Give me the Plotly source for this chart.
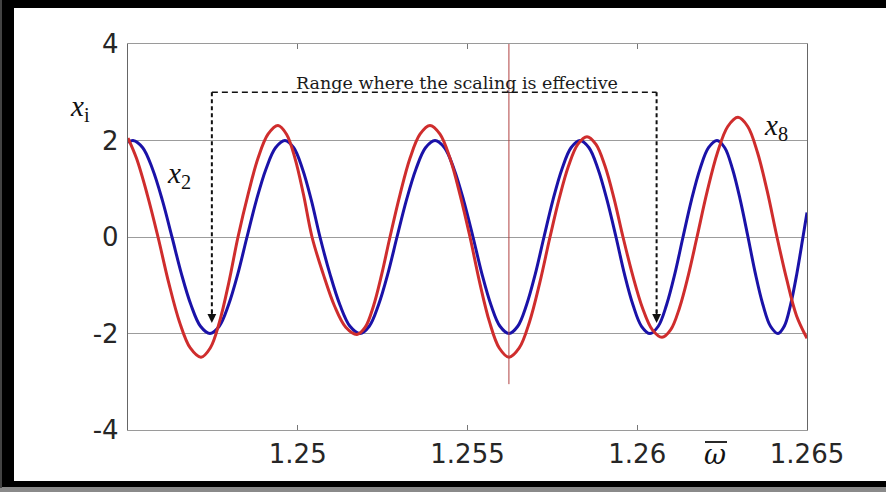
import plotly.graph_objects as go

# Normalised frequency values and the responses x2 (blue) and x8 (red) read along them
omega_x2 = [1.245000, 1.245147,
            1.245434, 1.245722, 1.246009, 1.246296,
            1.246576, 1.246856, 1.247135, 1.247415,
            1.247688, 1.247960, 1.248233, 1.248505,
            1.248785, 1.249065, 1.249345, 1.249624,
            1.249882, 1.250140, 1.250398, 1.250655,
            1.250950, 1.251244, 1.251539, 1.251834,
            1.252106, 1.252378, 1.252651, 1.252923,
            1.253203, 1.253483, 1.253763, 1.254043,
            1.254323, 1.254602, 1.254882, 1.255162,
            1.255427, 1.255692, 1.255957, 1.256222,
            1.256480, 1.256738, 1.256996, 1.257253,
            1.257518, 1.257783, 1.258049, 1.258314,
            1.258579, 1.258844, 1.259109, 1.259374,
            1.259624, 1.259875, 1.260125, 1.260376,
            1.260619, 1.260862, 1.261105, 1.261348,
            1.261598, 1.261848, 1.262099, 1.262349,
            1.262577, 1.262806, 1.263034, 1.263262,
            1.263483, 1.263704, 1.263925, 1.264146,
            1.264330, 1.264514, 1.264698, 1.264882,
            1.265000]
x2_vals = [1.96, 2.0,
           1.85, 1.41, 0.77, 0.0,
           -0.77, -1.41, -1.85, -2.0,
           -1.85, -1.41, -0.77, 0.0,
           0.77, 1.41, 1.85, 2.0,
           1.85, 1.41, 0.77, 0.0,
           -0.77, -1.41, -1.85, -2.0,
           -1.85, -1.41, -0.77, 0.0,
           0.77, 1.41, 1.85, 2.0,
           1.85, 1.41, 0.77, 0.0,
           -0.77, -1.41, -1.85, -2.0,
           -1.85, -1.41, -0.77, 0.0,
           0.77, 1.41, 1.85, 2.0,
           1.85, 1.41, 0.77, 0.0,
           -0.77, -1.41, -1.85, -2.0,
           -1.85, -1.41, -0.77, 0.0,
           0.77, 1.41, 1.85, 2.0,
           1.85, 1.41, 0.77, 0.0,
           -0.77, -1.41, -1.85, -2.0,
           -1.85, -1.41, -0.77, 0.0,
           0.51]

omega_x8 = [1.245000, 1.245250, 1.245567, 1.245884,
            1.246200, 1.246517, 1.246834, 1.247150,
            1.247423, 1.247695, 1.247968, 1.248240,
            1.248535, 1.248829, 1.249124, 1.249418,
            1.249669, 1.249919, 1.250169, 1.250420,
            1.250751, 1.251083, 1.251414, 1.251745,
            1.251988, 1.252231, 1.252474, 1.252717,
            1.253012, 1.253306, 1.253601, 1.253895,
            1.254190, 1.254485, 1.254779, 1.255074,
            1.255361, 1.255648, 1.255935, 1.256222,
            1.256524, 1.256826, 1.257128, 1.257430,
            1.257702, 1.257975, 1.258247, 1.258520,
            1.258785, 1.259050, 1.259315, 1.259580,
            1.259868, 1.260155, 1.260442, 1.260729,
            1.260987, 1.261244, 1.261502, 1.261760,
            1.262062, 1.262364, 1.262666, 1.262968,
            1.263255, 1.263542, 1.263829, 1.264116,
            1.264403, 1.264691, 1.265000]
x8_vals = [2.05, 1.63, 0.88, 0.0,
           -0.95, -1.76, -2.30, -2.49,
           -2.30, -1.76, -0.95, 0.0,
           0.88, 1.63, 2.13, 2.31,
           2.13, 1.63, 0.88, 0.0,
           -0.77, -1.43, -1.87, -2.02,
           -1.87, -1.43, -0.77, 0.0,
           0.88, 1.63, 2.13, 2.31,
           2.13, 1.63, 0.88, 0.0,
           -0.95, -1.76, -2.30, -2.49,
           -2.30, -1.76, -0.95, 0.0,
           0.80, 1.47, 1.92, 2.08,
           1.92, 1.47, 0.80, 0.0,
           -0.80, -1.47, -1.92, -2.08,
           -1.92, -1.47, -0.80, 0.0,
           0.95, 1.75, 2.29, 2.48,
           2.29, 1.75, 0.95, 0.0,
           -0.88, -1.63, -2.10]

x_tick_vals = [1.25, 1.255, 1.26, 1.265]
x_tick_text = ["1.25", "1.255", "1.26", "1.265"]
y_tick_vals = [-4, -2, 0, 2, 4]
y_tick_text = ["-4", "-2", "0", "2", "4"]

# Marked frequency and the range where the scaling is effective
omega_mark = 1.25622
range_lo = 1.24747
range_hi = 1.26057
bracket_y = 3.0
arrow_tip_y = -1.78

X_RANGE = [1.245, 1.265]
Y_RANGE = [-4, 4]

BLUE = "#1a12a8"
RED = "#cf2d2d"
TICK_FONT = dict(family="DejaVu Sans", size=26, color="#262626")

fig = go.Figure()
fig.add_trace(go.Scatter(x=omega_x2, y=x2_vals, mode="lines",
                         line=dict(color=BLUE, width=3, shape="spline", smoothing=1.0),
                         hoverinfo="skip", showlegend=False))
fig.add_trace(go.Scatter(x=omega_x8, y=x8_vals, mode="lines",
                         line=dict(color=RED, width=3, shape="spline", smoothing=1.0),
                         hoverinfo="skip", showlegend=False))

shapes = []
# thin marker line at the selected frequency
shapes.append(dict(type="line", xref="x", yref="y", x0=omega_mark, x1=omega_mark,
                   y0=4, y1=-3.05, line=dict(color="#b04040", width=1)))
# dashed bracket showing the effective range
shapes.append(dict(type="line", xref="x", yref="y", x0=range_lo, x1=range_hi,
                   y0=bracket_y, y1=bracket_y,
                   line=dict(color="#111", width=1.6, dash="6px,4px")))
for xv in (range_lo, range_hi):
    shapes.append(dict(type="line", xref="x", yref="y", x0=xv, x1=xv,
                       y0=bracket_y, y1=arrow_tip_y + 0.2,
                       line=dict(color="#111", width=2, dash="4px,3px")))


# helpers turning figure pixel positions into paper fractions (plot area 128..807 x 44..430)
def px_x(p):
    return (p - 128) / 679.0


def px_y(p):
    return (430 - p) / 386.0


# picture frame around the figure
frame = [
    (0, 14, 0, 488, "#000"),
    (0, 886, 0, 8, "#000"),
    (0, 886, 482, 488, "#000"),
    (0, 886, 488, 493, "#8a8a8a"),
    (0, 2, 0, 488, "#444"),
]
for a, b, c, d, col in frame:
    shapes.append(dict(type="rect", xref="paper", yref="paper",
                       x0=px_x(a - 1), x1=px_x(b), y0=px_y(d), y1=px_y(c - 1),
                       fillcolor=col, line=dict(width=0), layer="above"))

# bar over the omega symbol of the axis title
shapes.append(dict(type="line", xref="paper", yref="paper",
                   x0=px_x(705), x1=px_x(727), y0=px_y(442), y1=px_y(442),
                   line=dict(color="#111", width=1.8)))

annotations = []
for xv in (range_lo, range_hi):
    annotations.append(dict(x=xv, y=arrow_tip_y, ax=xv, ay=arrow_tip_y + 0.3,
                            xref="x", yref="y", axref="x", ayref="y", text="",
                            showarrow=True, arrowhead=2, arrowsize=1.1,
                            arrowwidth=1.6, arrowcolor="#111"))
annotations.append(dict(x=1.25469, y=bracket_y - 0.05, xref="x", yref="y",
                        text="Range where the scaling is effective", showarrow=False,
                        xanchor="center", yanchor="bottom",
                        font=dict(family="DejaVu Serif", size=17.5, color="#1a1a1a")))
annotations.append(dict(x=px_x(80), y=px_y(108), xref="paper", yref="paper",
                        text="<i>x</i><sub>i</sub>", showarrow=False,
                        xanchor="center", yanchor="middle",
                        font=dict(family="Liberation Serif", size=29, color="#111")))
annotations.append(dict(x=1.2465, y=1.28, xref="x", yref="y",
                        text="<i>x</i><sub>2</sub>", showarrow=False,
                        xanchor="center", yanchor="middle",
                        font=dict(family="Liberation Serif", size=29, color="#111")))
annotations.append(dict(x=1.26409, y=2.27, xref="x", yref="y",
                        text="<i>x</i><sub>8</sub>", showarrow=False,
                        xanchor="center", yanchor="middle",
                        font=dict(family="Liberation Serif", size=29, color="#111")))
annotations.append(dict(x=px_x(715), y=px_y(454), xref="paper", yref="paper",
                        text="<i>\u03c9</i>", showarrow=False,
                        xanchor="center", yanchor="middle",
                        font=dict(family="DejaVu Serif", size=27, color="#111")))

fig.update_layout(
    width=886, height=492,
    margin=dict(l=128, r=79, t=44, b=62, pad=0),
    paper_bgcolor="white", plot_bgcolor="white",
    shapes=shapes, annotations=annotations,
    xaxis=dict(range=X_RANGE, tickvals=x_tick_vals, ticktext=x_tick_text,
               showgrid=False, zeroline=False, showline=True, linecolor="#9a9a9a",
               linewidth=1.3, mirror="ticks", ticks="inside", ticklen=5,
               tickcolor="#777", tickwidth=1, tickfont=TICK_FONT,
               ticklabelstandoff=1),
    yaxis=dict(range=Y_RANGE, tickvals=y_tick_vals, ticktext=y_tick_text,
               showgrid=True, gridcolor="#9c9c9c", gridwidth=1.3, zeroline=False,
               showline=True, linecolor="#666", linewidth=1.3, mirror=True,
               ticks="", tickfont=TICK_FONT, ticklabelstandoff=3),
)

fig.write_html("out.html")
